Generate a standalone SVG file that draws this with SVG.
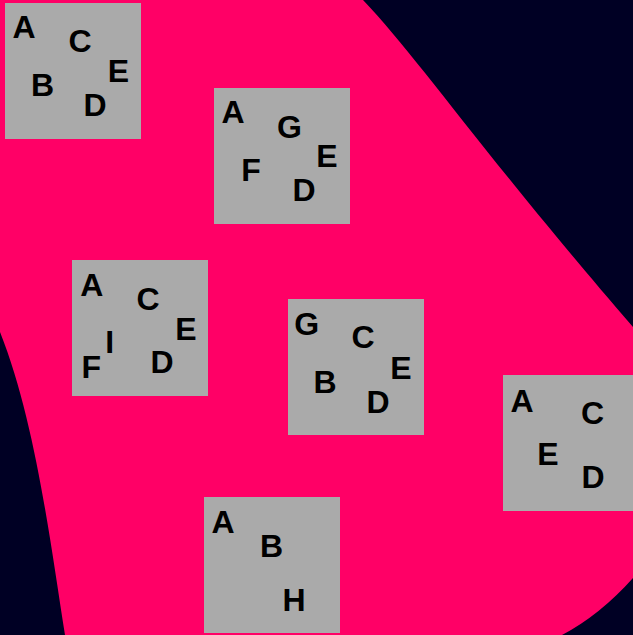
<svg xmlns="http://www.w3.org/2000/svg" width="633" height="635" viewBox="0 0 633 635">
<style>
.box{fill:#aaaaaa}
text{font-family:"Liberation Sans",Arial,sans-serif;font-weight:bold;font-size:32px;fill:#000;text-anchor:middle}
</style>
<rect width="633" height="635" fill="#000024"/>
<path d="M0,0 L363,0 C420,60 480,150 633,327 L633,578 Q600,615 562,635 L65,635 C50,540 35,420 0,332 Z" fill="#ff0066"/>
<g id="connectors"/>
<g id="n1"><rect class="box" x="5" y="3" width="136" height="136"/>
<text x="24" y="38">A</text><text x="80" y="52">C</text><text x="118.5" y="82">E</text><text x="42.5" y="96">B</text><text x="95" y="116">D</text></g>
<g id="n2"><rect class="box" x="214" y="88" width="136" height="136"/>
<text x="233" y="123">A</text><text x="289.5" y="138">G</text><text x="327" y="167">E</text><text x="251" y="181">F</text><text x="304" y="201">D</text></g>
<g id="n3"><rect class="box" x="72" y="260" width="136" height="136"/>
<text x="91.7" y="296">A</text><text x="148" y="310">C</text><text x="186" y="340">E</text><text x="109.7" y="353">I</text><text x="91.3" y="378">F</text><text x="162" y="373">D</text></g>
<g id="n4"><rect class="box" x="288" y="299" width="136" height="136"/>
<text x="306.7" y="335">G</text><text x="363" y="348">C</text><text x="401" y="379">E</text><text x="325" y="393">B</text><text x="378" y="413">D</text></g>
<g id="n5"><rect class="box" x="503" y="375" width="136" height="136"/>
<text x="522" y="412">A</text><text x="592.5" y="424">C</text><text x="548" y="465">E</text><text x="593" y="488">D</text></g>
<g id="n6"><rect class="box" x="204" y="497" width="136" height="136"/>
<text x="223" y="533">A</text><text x="271.5" y="557">B</text><text x="294" y="611">H</text></g>
</svg>
